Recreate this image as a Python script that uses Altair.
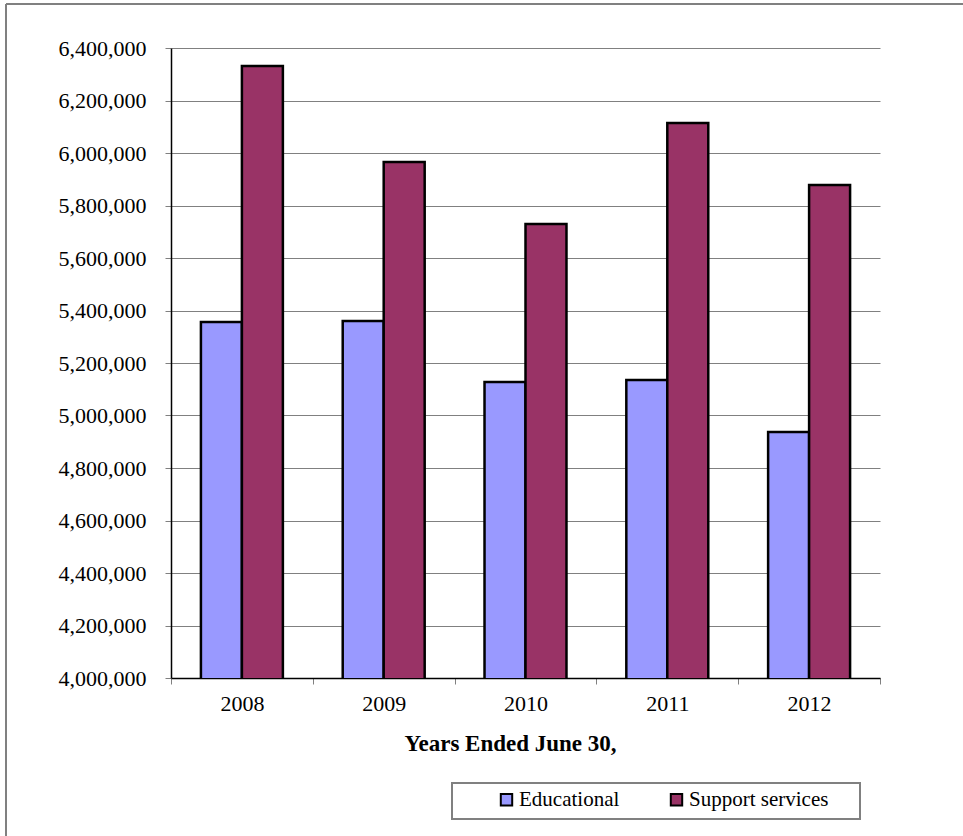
import altair as alt
import pandas as pd

years = ["2008", "2009", "2010", "2011", "2012"]
educational = [5356000, 5360000, 5128000, 5135000, 4937000]
support = [6331000, 5966000, 5730000, 6114000, 5878000]
series_names = ["Educational", "Support services"]
y_ticks = [4000000 + 200000 * i for i in range(13)]

rows = []
for i, y in enumerate(years):
    rows.append({"year": y, "series": series_names[0], "value": educational[i]})
    rows.append({"year": y, "series": series_names[1], "value": support[i]})
df = pd.DataFrame(rows)

FONT = "Liberation Serif"

bars = alt.Chart(df).mark_bar(stroke="black", strokeWidth=2.5, clip=True).encode(
    x=alt.X("year:N", sort=years,
            scale=alt.Scale(paddingInner=0, paddingOuter=0),
            axis=alt.Axis(title="Years Ended June 30,", labelAngle=0,
                          tickBand="extent", tickColor="#808080", tickSize=6,
                          domainColor="black", domainWidth=1.5,
                          labelFont=FONT, labelFontSize=22, labelColor="black",
                          labelPadding=9,
                          titleFont=FONT, titleFontSize=23, titleFontWeight="bold",
                          titleColor="black", titlePadding=18,
                          titleX=339, titleAlign="center")),
    xOffset=alt.XOffset("series:N", sort=series_names,
                        scale=alt.Scale(paddingOuter=0.73, paddingInner=0)),
    y=alt.Y("value:Q",
            scale=alt.Scale(domain=[4000000, 6400000], nice=False, zero=False),
            axis=alt.Axis(title=None, values=y_ticks, format=",.0f",
                          grid=True, gridColor="#808080", gridWidth=1,
                          tickColor="#808080", tickSize=6,
                          domainColor="black", domainWidth=1.5,
                          labelFont=FONT, labelFontSize=22, labelColor="black",
                          labelPadding=19)),
    fill=alt.Fill("series:N", sort=series_names,
                  scale=alt.Scale(domain=series_names, range=["#9999FF", "#993366"]),
                  legend=alt.Legend(title=None, orient="none", direction="horizontal",
                                    legendX=325, legendY=741,
                                    symbolType="square", symbolSize=130,
                                    symbolStrokeColor="black", symbolStrokeWidth=2,
                                    symbolOpacity=1,
                                    labelFont=FONT, labelFontSize=21, labelColor="black",
                                    labelOffset=2, columnPadding=46)),
)

frame_top = alt.Chart(df).mark_rule(color="#808080", strokeWidth=2).encode(
    x=alt.value(-165), x2=alt.value(792), y=alt.value(-44))
frame_left = alt.Chart(df).mark_rule(color="#808080", strokeWidth=2).encode(
    x=alt.value(-165), y=alt.value(-44), y2=alt.value(788))
legend_box = alt.Chart(df).mark_rect(filled=False, stroke="#808080", strokeWidth=1.5).encode(
    x=alt.value(281), x2=alt.value(689), y=alt.value(735), y2=alt.value(771))

chart = alt.layer(frame_top, frame_left, legend_box, bars).properties(
    width=709, height=630,
    autosize=alt.AutoSizeParams(type="none"),
    padding={"left": 171, "top": 48, "right": 83, "bottom": 158},
    background="white",
).configure_view(strokeWidth=0)

chart.save("out.html", embed_options={"renderer": "svg", "actions": False})
